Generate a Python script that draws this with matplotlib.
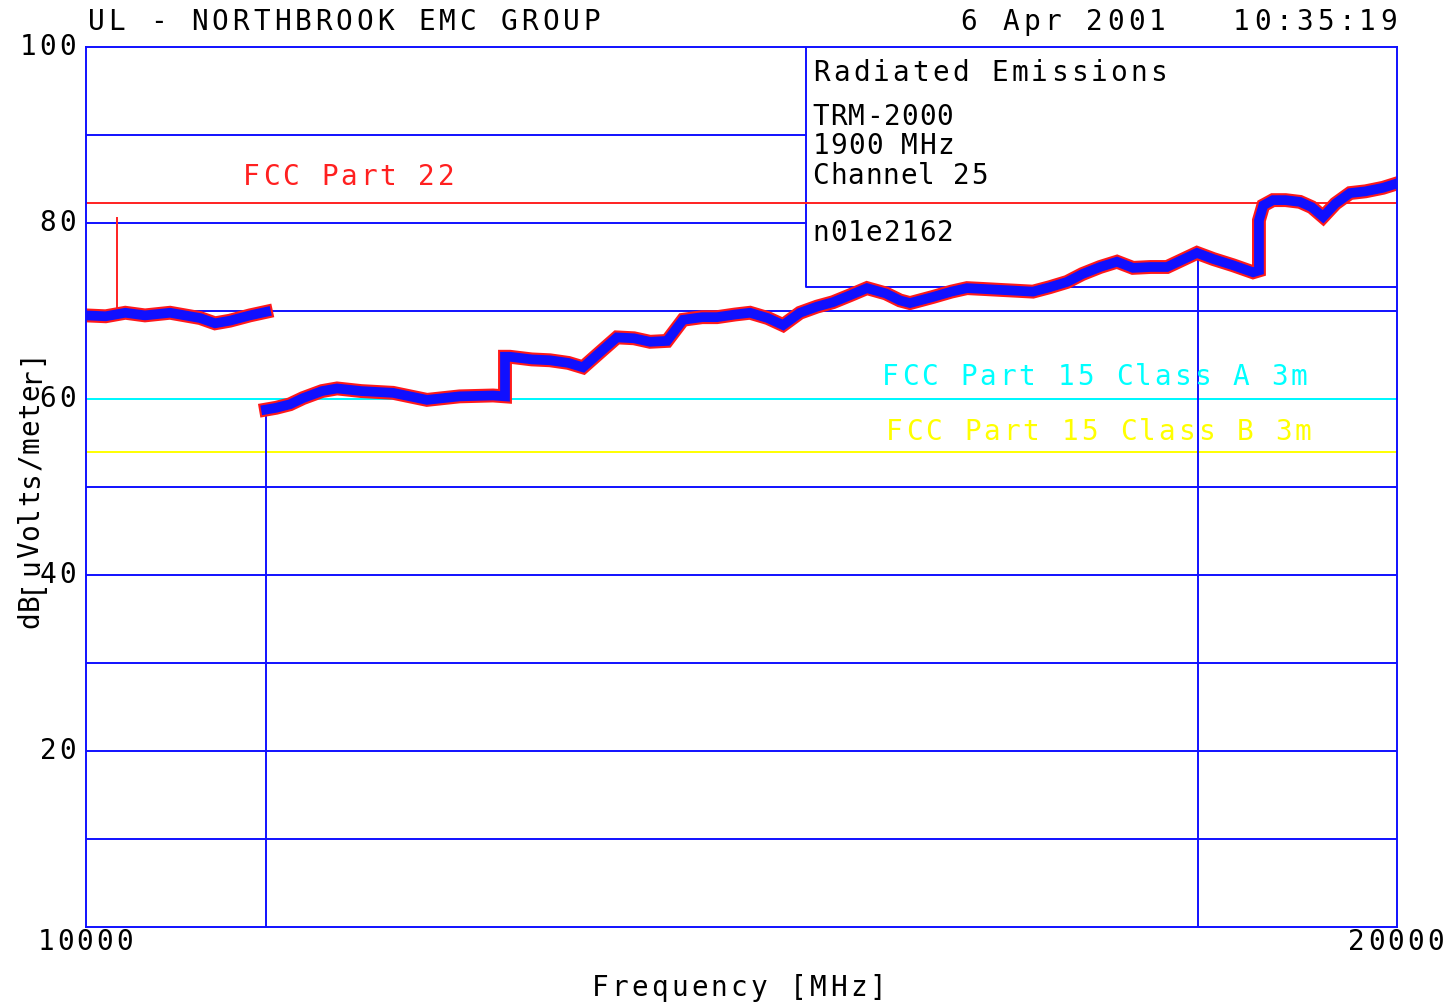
import matplotlib
matplotlib.use("Agg")
import matplotlib.pyplot as plt

# ---- data ----
freq_seg1 = [10000, 10150, 10300, 10450, 10641, 10870, 10984, 11098, 11250, 11373]
level_seg1 = [69.5, 69.4, 69.8, 69.5, 69.8, 69.2, 68.6, 68.9, 69.5, 69.9]

freq_seg2 = [11373, 11450, 11556, 11655, 11800, 11915, 12100, 12342, 12601, 12850, 13105, 13196,
             13196, 13234, 13400, 13539, 13680, 13791, 13920, 14050, 14180, 14302, 14432,
             14554, 14700, 14813, 14950, 15065, 15200, 15317, 15446, 15576, 15698, 15830,
             15957, 16100, 16209, 16285, 16461, 16600, 16720, 16850, 16972, 17100, 17223,
             17350, 17483, 17600, 17735, 17864, 17986, 18120, 18246, 18360, 18474, 18600,
             18749, 18902, 18947,
             18947, 18980, 19054, 19150, 19260, 19350, 19436, 19530, 19642, 19760, 19893, 20000]
level_seg2 = [58.8, 59.0, 59.4, 60.1, 60.9, 61.2, 60.9, 60.7, 59.9, 60.3, 60.4, 60.3,
              64.8, 64.8, 64.5, 64.4, 64.1, 63.6, 65.3, 67.0, 66.9, 66.5, 66.6,
              69.0, 69.3, 69.3, 69.6, 69.8, 69.2, 68.4, 69.8, 70.5, 71.0, 71.8,
              72.6, 72.0, 71.2, 70.9, 71.6, 72.2, 72.6, 72.5, 72.4, 72.3, 72.2,
              72.7, 73.3, 74.2, 75.0, 75.6, 74.9, 75.0, 75.0, 75.8, 76.6, 75.9,
              75.2, 74.4, 74.6,
              80.3, 82.0, 82.6, 82.6, 82.4, 81.8, 80.7, 82.2, 83.4, 83.6, 84.0, 84.5]

spike_freq = 10236
spike_level = 80.6
drop_freqs = [11373, 18482]
drop_levels = [58.8, 76.5]

limit_names = ["FCC Part 22", "FCC Part 15 Class A 3m", "FCC Part 15 Class B 3m"]
limit_levels = [82.3, 60.0, 54.0]
limit_colors = ["#ff2020", "#00ffff", "#ffff00"]

grid_levels = [10, 20, 30, 40, 50, 60, 70, 80, 90]
ytick_vals = [20, 40, 60, 80, 100]
xtick_vals = [10000, 20000]

info_lines = ["Radiated Emissions", "TRM-2000", "1900 MHz", "Channel 25", "n01e2162"]
box_left, box_bottom = 15492, 72.7

# ---- figure ----
W, H, DPI = 1447, 1008, 100
fig = plt.figure(figsize=(W / DPI, H / DPI), dpi=DPI, facecolor="white")
ax = fig.add_axes([86 / W, 1 - 927 / H, (1397 - 86) / W, (927 - 47) / H])
ax.set_xlim(10000, 20000)
ax.set_ylim(0, 100)
ax.set_facecolor("white")

mono = "DejaVu Sans Mono"
fs = 20
blue = "#1010ff"


def spaced(text, x0, x1, yc, color="black", size=fs, vertical=False, xc=None):
    """Place characters one by one at an even pitch (pixel coordinates, y from top)."""
    n = len(text)
    pitch = (x1 - x0) / n
    for i, ch in enumerate(text):
        if ch == " ":
            continue
        c = x0 + (i + 0.5) * pitch
        if vertical:
            fig.text(xc / W, 1 - c / H, ch, family=mono, fontsize=size, color=color,
                     ha="center", va="center", rotation=90, zorder=10)
        else:
            fig.text(c / W, 1 - yc / H, ch, family=mono, fontsize=size, color=color,
                     ha="center", va="center", zorder=10)


for s in ax.spines.values():
    s.set_color(blue)
    s.set_linewidth(1.4)
    s.set_zorder(5)

# grid lines
for g in grid_levels:
    xe = box_left if g > box_bottom else 20000
    ax.plot([10000, xe], [g, g], color=blue, lw=1.4, zorder=1)

# info box
ax.plot([box_left, box_left, 20000], [100, box_bottom, box_bottom], color=blue, lw=1.4, zorder=1)

# limit lines
for lv, c in zip(limit_levels, limit_colors):
    ax.plot([10000, 20000], [lv, lv], color=c, lw=1.4, zorder=2)

# drop lines
for f, lv in zip(drop_freqs, drop_levels):
    ax.plot([f, f], [0, lv], color=blue, lw=1.4, zorder=3)

# spike
ax.plot([spike_freq, spike_freq], [69.5, spike_level], color="#ff2020", lw=1.4, zorder=3)

# trace
for fr, lv in [(freq_seg1, level_seg1), (freq_seg2, level_seg2)]:
    ax.plot(fr, lv, color="#ff1a1a", lw=10, solid_joinstyle="miter", zorder=3)
    ax.plot(fr, lv, color=blue, lw=7, solid_joinstyle="miter", zorder=4)

ax.set_xticks([])
ax.set_yticks([])

# ---- texts (pixel placement) ----
spaced("UL - NORTHBROOK EMC GROUP", 86, 602, 22)
spaced("6 Apr 2001   10:35:19", 958, 1399, 22)

ytick_right = 77
for v in ytick_vals:
    s = str(v)
    yc = 927 - v * 8.8
    spaced(s, ytick_right - 19.4 * len(s), ytick_right, yc)
for v, xc in zip(xtick_vals, [85, 1396]):
    s = str(v)
    spaced(s, xc - 49, xc + 49, 942)

spaced("Frequency [MHz]", 590, 888, 988)
spaced("dB[uVolts/meter]", 628, 348, None, vertical=True, xc=30)

spaced(limit_names[0], 242, 456, 177, color=limit_colors[0])
spaced(limit_names[1], 881, 1309, 377, color=limit_colors[1])
spaced(limit_names[2], 885, 1313, 432, color=limit_colors[2])

spaced(info_lines[0], 812, 1168, 73)
spaced(info_lines[1], 812, 954, 117)
spaced(info_lines[2], 812, 954, 146)
spaced(info_lines[3], 812, 988, 176)
spaced(info_lines[4], 812, 954, 233)

fig.savefig("out.png", dpi=DPI, facecolor="white")
